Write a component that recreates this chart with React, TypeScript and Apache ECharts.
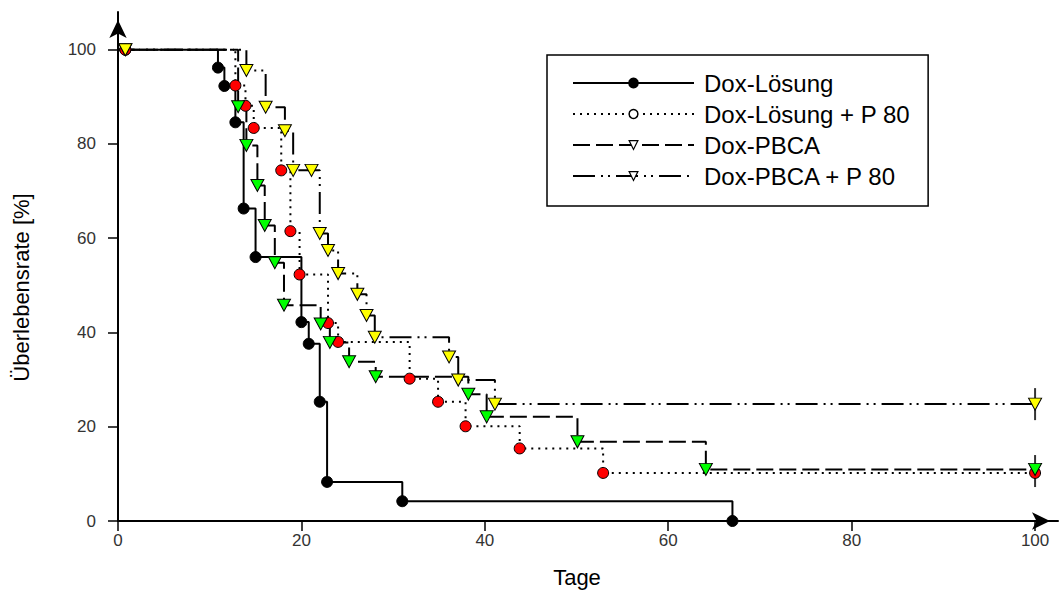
import React, { useEffect, useRef } from "react";
import * as echarts from "echarts";

// Series names (legend)
const seriesNames = ["Dox-Lösung", "Dox-Lösung + P 80", "Dox-PBCA", "Dox-PBCA + P 80"];

// Kaplan-Meier steps: [Tage, Überlebensrate %]
const doxLoesung = [
  [0, 100], [0.8, 100], [10.9, 96.2], [11.6, 92.3], [12.8, 84.6], [13.7, 66.3], [15, 56],
  [20, 42.2], [20.8, 37.6], [22, 25.3], [22.8, 8.3], [31, 4.2], [67, 0],
];
const doxLoesungP80 = [
  [0, 100], [0.8, 100], [12.8, 92.4], [13.9, 88.1], [14.8, 83.4], [17.8, 74.4], [18.8, 61.5],
  [19.8, 52.3], [22.9, 42], [24, 38], [31.8, 30.2], [34.9, 25.3], [37.9, 20.1], [43.8, 15.4],
  [52.9, 10.2], [100, 10.2],
];
const doxPBCA = [
  [0, 100], [0.8, 100], [13.1, 87.9], [14, 79.7], [15.2, 71.2], [16, 62.7], [17.1, 54.8],
  [18.1, 45.8], [22.1, 41.8], [23.1, 37.9], [25.2, 33.8], [28.1, 30.6], [38.2, 26.9],
  [40.2, 22.1], [50.1, 16.8], [64.1, 10.95], [100, 10.95],
];
const doxPBCAP80 = [
  [0, 100], [0.8, 100], [14, 95.6], [16.1, 87.8], [18.2, 82.8], [19.1, 74.4], [21.1, 74.4],
  [22, 61], [22.9, 57.4], [24, 52.5], [26.1, 48.1], [27.1, 43.6], [28, 39], [36.1, 34.8],
  [37.1, 29.9], [41.1, 24.8], [100, 24.8],
];
// censored observations at end of study
const censored = [[100, 24.8], [100, 10.6]];

const tickValues = [0, 20, 40, 60, 80, 100];

const TRI = "path://M0,0 L14,0 L7,12 Z";

function toData(arr: number[][]) {
  return arr.map((p, i) => (i === 0 ? { value: p, symbol: "none" } : p));
}

export default function App() {
  const ref = useRef<HTMLDivElement>(null);
  useEffect(() => {
    if (!ref.current) return;
    const chart = echarts.init(ref.current, undefined, { renderer: "svg" });
    const font = "'Liberation Sans', Arial, sans-serif";
    const lineSeries = (
      name: string,
      data: number[][],
      dash: any,
      symbol: string,
      size: any,
      color: string
    ) => ({
      name,
      type: "line",
      step: "end",
      data: toData(data),
      symbol,
      symbolSize: size,
      showAllSymbol: true,
      z: 3,
      lineStyle: { color: "#000", width: 2, type: dash },
      itemStyle: { color, borderColor: "#000", borderWidth: 1 },
      emphasis: { disabled: true },
    });
    chart.setOption({
      animation: false,
      backgroundColor: "#fff",
      textStyle: { fontFamily: font },
      grid: { left: 118, right: 4, top: 12, bottom: 80 },
      legend: {
        orient: "vertical",
        left: 547,
        top: 55,
        padding: [16, 18, 18, 25],
        itemGap: 7,
        itemWidth: 121,
        itemHeight: 11,
        borderColor: "#000",
        borderWidth: 1.5,
        selectedMode: false,
        textStyle: { fontSize: 24, color: "#000", lineHeight: 24, padding: [0, 0, 0, 5], fontFamily: font },
        data: [
          { name: seriesNames[0], itemStyle: { color: "#000", borderColor: "#000" } },
          { name: seriesNames[1], itemStyle: { color: "#fff", borderColor: "#000", borderWidth: 1.5 } },
          { name: seriesNames[2], itemStyle: { color: "#fff", borderColor: "#000", borderWidth: 1.2 } },
          { name: seriesNames[3], itemStyle: { color: "#fff", borderColor: "#000", borderWidth: 1.2 } },
        ],
      },
      xAxis: {
        type: "value",
        min: 0,
        max: 102.5,
        name: "Tage",
        nameLocation: "middle",
        nameGap: 45,
        nameTextStyle: { fontSize: 22, color: "#000", padding: [0, 22, 0, 0], fontFamily: font },
        splitLine: { show: false },
        axisLine: {
          onZero: false,
          symbol: ["none", "arrow"],
          symbolSize: [13, 18],
          symbolOffset: [0, -8],
          lineStyle: { color: "#000", width: 2 },
        },
        axisTick: { customValues: tickValues, length: 10, lineStyle: { color: "#000", width: 1.5 } },
        axisLabel: { customValues: tickValues, margin: 11, fontSize: 17, color: "#333", fontFamily: font },
      },
      yAxis: {
        type: "value",
        min: 0,
        max: 108,
        name: "Überlebensrate [%]",
        nameLocation: "middle",
        nameGap: 86,
        nameTextStyle: { fontSize: 22, color: "#000", padding: [0, 42, 0, 0], fontFamily: font },
        splitLine: { show: false },
        axisLine: {
          onZero: false,
          symbol: ["none", "arrow"],
          symbolSize: [13, 18],
          symbolOffset: [0, -8],
          lineStyle: { color: "#000", width: 2 },
        },
        axisTick: { customValues: tickValues, length: 10, lineStyle: { color: "#000", width: 1.5 } },
        axisLabel: { customValues: tickValues, margin: 22, fontSize: 17, color: "#333", fontFamily: font },
      },
      series: [
        {
          name: "zensiert",
          type: "scatter",
          data: censored,
          symbol: "rect",
          symbolSize: [2, 32],
          z: 1,
          itemStyle: { color: "#000" },
          emphasis: { disabled: true },
        },
        lineSeries(seriesNames[0], doxLoesung, "solid", "circle", 11, "#000"),
        lineSeries(seriesNames[1], doxLoesungP80, [2, 5], "circle", 11, "#ff0000"),
        lineSeries(seriesNames[2], doxPBCA, [17, 6], TRI, [13, 12], "#00ff00"),
        lineSeries(seriesNames[3], doxPBCAP80, [22, 6, 2, 5, 2, 6], TRI, [13, 12], "#ffff00"),
      ],
    });
    return () => chart.dispose();
  }, []);
  return (
    <div
      ref={ref}
      style={{ position: "fixed", left: 0, top: 0, width: 1062, height: 601, background: "#fff" }}
    />
  );
}
